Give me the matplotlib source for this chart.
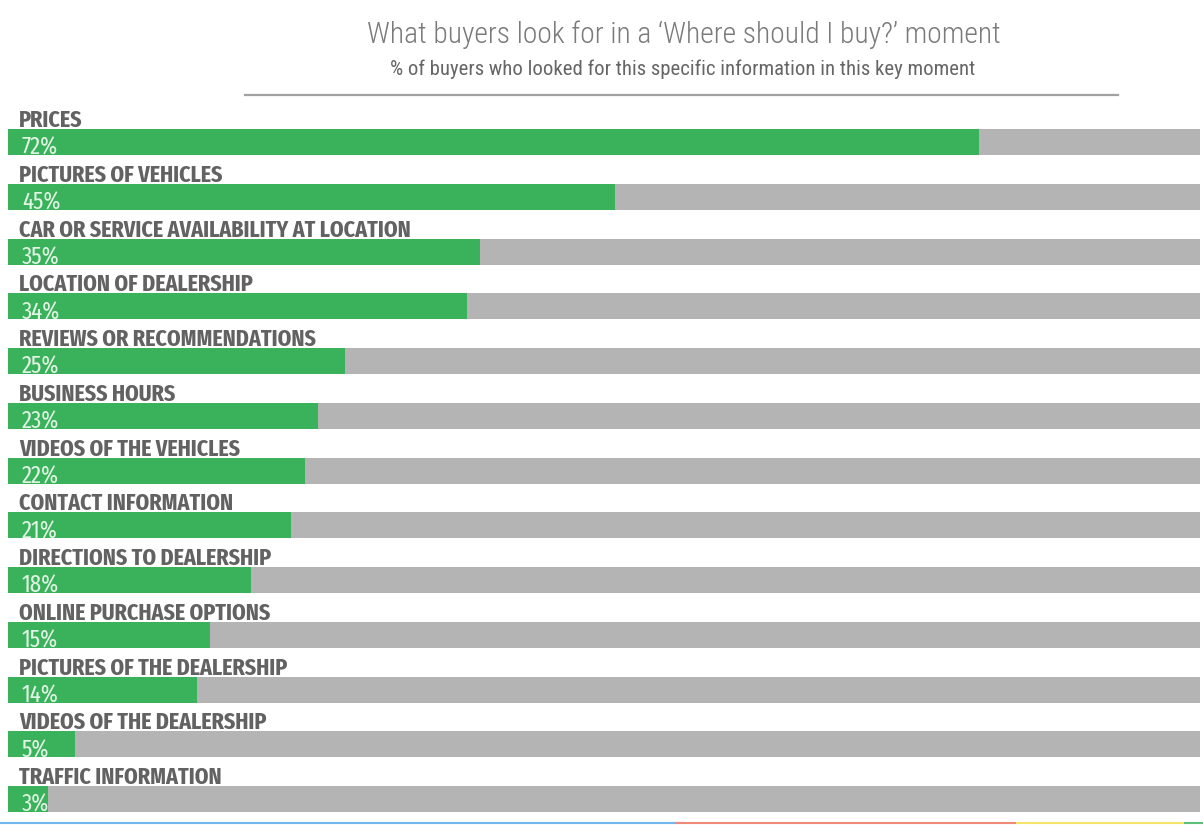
import os
import matplotlib
matplotlib.use("Agg")
import matplotlib.pyplot as plt
from matplotlib import font_manager as fm
from matplotlib.lines import Line2D

# ---------------- data ----------------
categories = [
    "PRICES",
    "PICTURES OF VEHICLES",
    "CAR OR SERVICE AVAILABILITY AT LOCATION",
    "LOCATION OF DEALERSHIP",
    "REVIEWS OR RECOMMENDATIONS",
    "BUSINESS HOURS",
    "VIDEOS OF THE VEHICLES",
    "CONTACT INFORMATION",
    "DIRECTIONS TO DEALERSHIP",
    "ONLINE PURCHASE OPTIONS",
    "PICTURES OF THE DEALERSHIP",
    "VIDEOS OF THE DEALERSHIP",
    "TRAFFIC INFORMATION",
]
values = [72, 45, 35, 34, 25, 23, 22, 21, 18, 15, 14, 5, 3]
value_labels = [f"{v}%" for v in values]
title = "What buyers look for in a \u2018Where should I buy?\u2019 moment"
subtitle = "% of buyers who looked for this specific information in this key moment"

# ---------------- fonts ----------------
def wnum(w):
    if isinstance(w, (int, float)):
        return w
    return fm.weight_dict.get(str(w), 400)

def cond_score(f):
    s = (os.path.basename(f.fname) + " " + f.name).lower().replace("-", "").replace(" ", "")
    if "extracondensed" in s or "ultracondensed" in s:
        return 3
    if "semicondensed" in s:
        return 1
    if "condensed" in s or "narrow" in s or "cond" in s or "condensed" in str(f.stretch):
        return 2
    return 0

ENTRIES = [f for f in fm.fontManager.ttflist
           if f.style == "normal" and f.fname.lower().endswith((".ttf", ".otf"))]

def find_font(weight, prefer_extra=False):
    if prefer_extra:
        extra = [f for f in ENTRIES if cond_score(f) == 3]
        if extra:
            e = min(extra, key=lambda f: abs(wnum(f.weight) - weight))
            return fm.FontProperties(fname=e.fname)
    roboto_c = [f for f in ENTRIES if "roboto" in f.name.lower() and cond_score(f) > 0]
    if roboto_c:
        e = min(roboto_c, key=lambda f: abs(wnum(f.weight) - weight))
        return fm.FontProperties(fname=e.fname)
    conds = [f for f in ENTRIES if cond_score(f) > 0]
    if conds:
        e = min(conds, key=lambda f: (-cond_score(f), abs(wnum(f.weight) - weight)))
        return fm.FontProperties(fname=e.fname)
    return fm.FontProperties(family=["Roboto", "DejaVu Sans"], weight=weight)

fp_label = find_font(700, prefer_extra=True)
fp_pct = find_font(400, prefer_extra=True)
fp_title = find_font(300)
fp_sub = find_font(400)

# ---------------- figure ----------------
W, H = 1203, 825
fig = plt.figure(figsize=(W / 100, H / 100), dpi=100)
fig.patch.set_facecolor("white")

px_per_pct = 13.49
row_px = 54.75
first_center_px = 142
bar_h = 26 / row_px
left_px, right_px = 8, 1200

ax = fig.add_axes([left_px / W, 0, (right_px - left_px) / W, 1])
ax.set_xlim(0, (right_px - left_px) / px_per_pct)
ax.set_ylim((H - first_center_px) / row_px, -first_center_px / row_px)
ax.axis("off")

n = len(categories)
ypos = list(range(n))
green = "#3ab25c"
gray = "#b4b4b4"
ax.barh(ypos, [100] * n, height=bar_h, color=gray, zorder=1)
ax.barh(ypos, values, height=bar_h, color=green, zorder=2)

renderer = fig.canvas.get_renderer()

def fit_size(t, target_px, max_pt):
    w = t.get_window_extent(renderer).width
    size = t.get_fontsize() * target_px / w
    return min(size, max_pt)

label_texts = []
pct_texts = []
for i, (cat, lab) in enumerate(zip(categories, value_labels)):
    t = ax.text((19 - left_px) / px_per_pct, i - bar_h / 2 - 2 / row_px, cat,
                ha="left", va="baseline", color="#626262",
                fontproperties=fp_label, fontsize=16, zorder=3)
    label_texts.append(t)
    p = ax.text((22 - left_px) / px_per_pct, i + bar_h / 2, lab,
                ha="left", va="baseline", color="#e2f4e4",
                fontproperties=fp_pct, fontsize=14, zorder=3)
    pct_texts.append(p)

s = fit_size(label_texts[2], 392, 20)
for t in label_texts:
    t.set_fontsize(s)
s = fit_size(pct_texts[0], 36, 19)
for p in pct_texts:
    p.set_fontsize(s)

tt = fig.text(684 / W, 1 - 43 / H, title, ha="center", va="baseline",
              color="#7a7a7a", fontproperties=fp_title, fontsize=20)
tt.set_fontsize(fit_size(tt, 635, 23))
st = fig.text(683 / W, 1 - 75 / H, subtitle, ha="center", va="baseline",
              color="#666666", fontproperties=fp_sub, fontsize=14)
st.set_fontsize(fit_size(st, 587, 16))

fig.add_artist(Line2D([245 / W, 1118 / W], [1 - 95 / H] * 2,
                      color="#a0a0a0", lw=1.6))

strip = [(0, 677, "#72b6ee"), (677, 1017, "#ef8a78"),
         (1017, 1185, "#f6e36a"), (1185, 1203, "#5cc07a")]
for x0, x1, c in strip:
    fig.add_artist(Line2D([x0 / W, x1 / W], [1 - 823 / H] * 2, color=c, lw=1.5))

fig.savefig("out.png", dpi=100, facecolor="white")
